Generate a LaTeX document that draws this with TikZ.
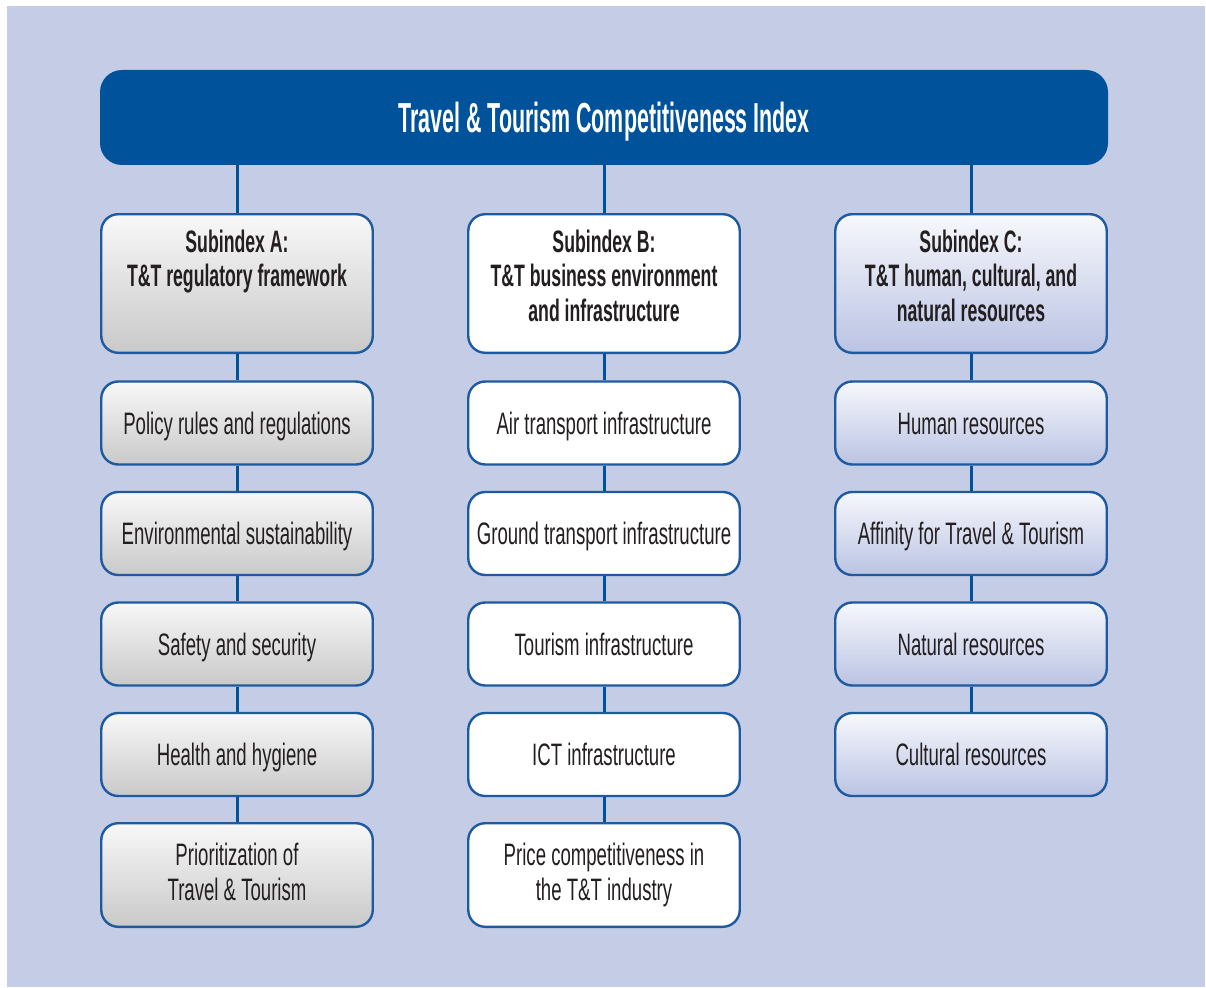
\documentclass[tikz,border=0pt]{standalone}
\usepackage{fontspec}
\setmainfont{Liberation Sans}
\newfontfamily\rowfont{Liberation Sans}[FakeStretch=0.6]
\newfontfamily\headfont{Liberation Sans}[FakeStretch=0.57]
\newfontfamily\titlefont{Liberation Sans}[FakeStretch=0.51]

\definecolor{bgblue}{HTML}{C5CCE5}
\definecolor{navy}{HTML}{00529B}
\definecolor{edge}{HTML}{1D5AA0}
\definecolor{ink}{HTML}{231F20}
\definecolor{grayTop}{HTML}{F8F8F8}
\definecolor{grayBot}{HTML}{C9C9C9}
\definecolor{lilacTop}{HTML}{F7F8FC}
\definecolor{lilacBot}{HTML}{BAC3E3}

\begin{document}
\begin{tikzpicture}[x=1pt,y=-1pt,
  cell/.style={draw=edge, line width=2.4pt, rounded corners=17pt,
    minimum width=271.5pt, minimum height=#1, inner sep=0pt,
    align=center, text=ink},
  cell/.default=83pt,
  colA/.style={top color=grayTop, bottom color=grayBot},
  colB/.style={fill=white},
  colC/.style={top color=lilacTop, bottom color=lilacBot},
  item/.style={font=\rowfont\fontsize{31}{35}\selectfont,
    text height=22pt, text depth=0pt},
  itemtext/.style={font=\rowfont\fontsize{31}{35}\selectfont,
    align=center, text=ink, inner sep=0pt, anchor=north},
  headtext/.style={font=\headfont\bfseries\fontsize{31}{34.5}\selectfont,
    align=center, text=ink, inner sep=0pt, anchor=north},
  link/.style={draw=navy, line width=3pt}]

% page and panel background
\fill[white] (0,0) rectangle (1206,987);
\fill[bgblue] (7,6) rectangle (1205,987);
\useasboundingbox (0,0) rectangle (1206,987);

% title bar
\node[fill=navy, rounded corners=22pt, minimum width=1008pt,
  minimum height=95pt, inner sep=0pt, text=white,
  font=\titlefont\bfseries\fontsize{42}{46}\selectfont,
  text height=30pt, text depth=0pt] (title) at (604,117.5)
  {Travel \& Tourism Competitiveness Index};

% subindex boxes
\node[cell=138.6pt, colA] (subA) at (237,283.5) {};
\node[cell=138.6pt, colB] (subB) at (604,283.5) {};
\node[cell=138.6pt, colC] (subC) at (971,283.5) {};
\node[headtext] (subAt) at (237,229.5) {Subindex A:\\T\&T regulatory framework};
\node[headtext] (subBt) at (604,229.5) {Subindex B:\\T\&T business environment\\and infrastructure};
\node[headtext] (subCt) at (971,229.5) {Subindex C:\\T\&T human, cultural, and\\natural resources};

% column A pillars
\node[cell, colA, item] (a1) at (237,423)   {Policy rules and regulations};
\node[cell, colA, item] (a2) at (237,533.5) {Environmental sustainability};
\node[cell, colA, item] (a3) at (237,644)   {Safety and security};
\node[cell, colA, item] (a4) at (237,754.5) {Health and hygiene};
\node[cell=103.6pt, colA] (a5) at (237,875) {};
\node[itemtext] (a5t) at (237,842.5) {Prioritization of\\Travel \& Tourism};

% column B pillars
\node[cell, colB, item] (b1) at (604,423)   {Air transport infrastructure};
\node[cell, colB, item] (b2) at (604,533.5) {Ground transport infrastructure};
\node[cell, colB, item] (b3) at (604,644)   {Tourism infrastructure};
\node[cell, colB, item] (b4) at (604,754.5) {ICT infrastructure};
\node[cell=103.6pt, colB] (b5) at (604,875) {};
\node[itemtext] (b5t) at (604,842.5) {Price competitiveness in\\the T\&T industry};

% column C pillars
\node[cell, colC, item] (c1) at (971,423)   {Human resources};
\node[cell, colC, item] (c2) at (971,533.5) {Affinity for Travel \& Tourism};
\node[cell, colC, item] (c3) at (971,644)   {Natural resources};
\node[cell, colC, item] (c4) at (971,754.5) {Cultural resources};

% connectors
\foreach \s in {subA,subB,subC}
  \draw[link] (title.south -| \s.north) -- (\s.north);
\draw[link] (subA.south) -- (a1.north);
\draw[link] (a1.south) -- (a2.north);
\draw[link] (a2.south) -- (a3.north);
\draw[link] (a3.south) -- (a4.north);
\draw[link] (a4.south) -- (a5.north);
\draw[link] (subB.south) -- (b1.north);
\draw[link] (b1.south) -- (b2.north);
\draw[link] (b2.south) -- (b3.north);
\draw[link] (b3.south) -- (b4.north);
\draw[link] (b4.south) -- (b5.north);
\draw[link] (subC.south) -- (c1.north);
\draw[link] (c1.south) -- (c2.north);
\draw[link] (c2.south) -- (c3.north);
\draw[link] (c3.south) -- (c4.north);
\end{tikzpicture}
\end{document}
